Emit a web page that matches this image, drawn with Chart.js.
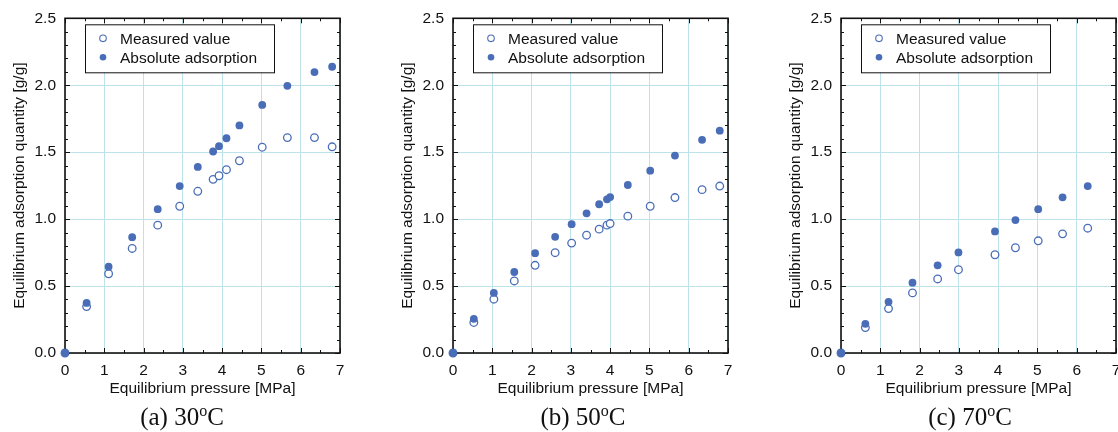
<!DOCTYPE html>
<html>
<head>
<meta charset="utf-8">
<script src="https://cdn.jsdelivr.net/npm/chart.js@4/dist/chart.umd.min.js"></script>
<style>
  html, body { margin: 0; padding: 0; background: #fff; }
  body { width: 1118px; height: 432px; overflow: hidden; position: relative; }
  .panel { position: absolute; top: 0; width: 388px; height: 432px; }
  .caption {
    position: absolute; top: 403px; white-space: nowrap;
    font-family: 'Liberation Serif', 'Times New Roman', serif; font-size: 25px; color: #111;
    transform: translateX(-50%);
  }
  .caption sup { font-size: 16px; vertical-align: 0; position: relative; top: -9px; }
</style>
</head>
<body>
<div class="panel" style="left:0px"><canvas id="chartA" width="388" height="432"></canvas><div class="caption" style="left:182px">(a) 30<sup>o</sup>C</div></div>
<div class="panel" style="left:388px"><canvas id="chartB" width="388" height="432"></canvas><div class="caption" style="left:195px">(b) 50<sup>o</sup>C</div></div>
<div class="panel" style="left:776px"><canvas id="chartC" width="388" height="432"></canvas><div class="caption" style="left:194px">(c) 70<sup>o</sup>C</div></div>
<script>
// ============================
// DATA
// ============================
const seriesLabels = ["Measured value", "Absolute adsorption"];
const xTitle = "Equilibrium pressure [MPa]";
const yTitle = "Equilibrium adsorption quantity [g/g]";

// (a) 30 C
const pressureA = [0, 0.55, 1.11, 1.71, 2.36, 2.92, 3.38, 3.77, 3.92, 4.11, 4.44, 5.02, 5.66, 6.35, 6.80];
const measuredA = [0, 0.347, 0.592, 0.781, 0.955, 1.096, 1.208, 1.297, 1.324, 1.369, 1.436, 1.537, 1.609, 1.609, 1.540];
const absoluteA = [0, 0.374, 0.645, 0.865, 1.074, 1.247, 1.390, 1.505, 1.545, 1.604, 1.700, 1.853, 1.996, 2.098, 2.138];

// (b) 50 C
const pressureB = [0, 0.53, 1.04, 1.56, 2.09, 2.60, 3.02, 3.40, 3.72, 3.92, 4.00, 4.45, 5.02, 5.65, 6.34, 6.79];
const measuredB = [0, 0.228, 0.402, 0.538, 0.655, 0.749, 0.821, 0.880, 0.925, 0.955, 0.967, 1.022, 1.096, 1.161, 1.220, 1.247];
const absoluteB = [0, 0.255, 0.449, 0.605, 0.746, 0.868, 0.962, 1.043, 1.111, 1.148, 1.165, 1.255, 1.362, 1.475, 1.592, 1.661];

// (c) 70 C
const pressureC = [0, 0.62, 1.21, 1.82, 2.46, 2.99, 3.92, 4.44, 5.02, 5.64, 6.28];
const measuredC = [0, 0.190, 0.332, 0.449, 0.553, 0.622, 0.734, 0.786, 0.838, 0.890, 0.932];
const absoluteC = [0, 0.218, 0.382, 0.525, 0.655, 0.751, 0.908, 0.993, 1.074, 1.163, 1.247];

// ============================
// STYLE
// ============================
const BLUE = "#4a6db8";
const GRID = "#bde2e9";
const INK = "#111";

Chart.defaults.font.family = "'Liberation Sans', Arial, Helvetica, sans-serif";
Chart.defaults.font.size = 15.5;
Chart.defaults.color = INK;

// box frame + inward ticks on all four sides
const frameTicks = {
  id: "frameTicks",
  beforeDatasetsDraw(chart){
    const {ctx, chartArea: a, scales: {x, y}} = chart;
    ctx.save();
    ctx.strokeStyle = INK;
    ctx.lineWidth = 1;
    ctx.beginPath();
    for(let i = 0; i <= 14; i++){
      const px = Math.round(x.getPixelForValue(i / 2)) + 0.5;
      const len = i % 2 === 0 ? 5 : 3;
      ctx.moveTo(px, a.bottom); ctx.lineTo(px, a.bottom - len);
      ctx.moveTo(px, a.top); ctx.lineTo(px, a.top + len);
    }
    for(let i = 0; i <= 25; i++){
      const py = Math.round(y.getPixelForValue(i / 10)) + 0.5;
      const len = i % 5 === 0 ? 5 : 3;
      ctx.moveTo(a.left, py); ctx.lineTo(a.left + len, py);
      ctx.moveTo(a.right, py); ctx.lineTo(a.right - len, py);
    }
    ctx.stroke();
    ctx.lineWidth = 1.6;
    ctx.strokeRect(a.left, a.top, a.right - a.left, a.bottom - a.top);
    ctx.restore();
  }
};

// boxed legend inside the plot, upper left
const boxLegend = {
  id: "boxLegend",
  afterDatasetsDraw(chart){
    const {ctx, chartArea: a} = chart;
    const bx = a.left + 20, by = a.top + 6, bw = 189, bh = 48;
    ctx.save();
    ctx.fillStyle = "#fff";
    ctx.fillRect(bx, by, bw, bh);
    ctx.strokeStyle = INK;
    ctx.lineWidth = 1;
    ctx.strokeRect(bx + 0.5, by + 0.5, bw, bh);
    chart.data.datasets.forEach((ds, i) => {
      const cy = by + 14 + i * 19;
      ctx.beginPath();
      ctx.arc(bx + 18, cy, 3.3, 0, Math.PI * 2);
      ctx.fillStyle = ds.backgroundColor;
      ctx.fill();
      if(ds.borderWidth){
        ctx.strokeStyle = ds.borderColor;
        ctx.lineWidth = 1.1;
        ctx.stroke();
      }
      ctx.fillStyle = INK;
      ctx.font = "15.5px 'Liberation Sans', Arial, sans-serif";
      ctx.textBaseline = "middle";
      ctx.fillText(ds.label, bx + 35, cy + 1);
    });
    ctx.restore();
  }
};

function toPoints(xs, ys){
  return xs.map((x, i) => ({x: x, y: ys[i]}));
}

function makeChart(id, pressure, measured, absolute){
  new Chart(document.getElementById(id), {
    type: "scatter",
    data: {
      datasets: [{
        label: seriesLabels[0],
        data: toPoints(pressure, measured),
        backgroundColor: "#fff",
        borderColor: BLUE,
        borderWidth: 1.3,
        pointRadius: 3.8,
        clip: false,
        order: 2
      },{
        label: seriesLabels[1],
        data: toPoints(pressure, absolute),
        backgroundColor: BLUE,
        borderColor: BLUE,
        borderWidth: 0,
        pointRadius: 3.9,
        clip: false,
        order: 1
      }]
    },
    options: {
      responsive: false,
      animation: false,
      layout: { padding: { top: 17, right: 48, bottom: 0, left: 0 } },
      plugins: { legend: { display: false }, tooltip: { enabled: false } },
      scales: {
        x: {
          type: "linear", min: 0, max: 7,
          ticks: { stepSize: 1, padding: 8, maxRotation: 0 },
          grid: { color: GRID, lineWidth: 1, drawTicks: false },
          border: { display: false },
          title: { display: true, text: xTitle, padding: { top: 0, bottom: 34 } },
          afterFit(scale){ scale.height = 79; }
        },
        y: {
          type: "linear", min: 0, max: 2.5,
          ticks: { stepSize: 0.5, padding: 9, callback: v => v.toFixed(1) },
          grid: { color: GRID, lineWidth: 1, drawTicks: false },
          border: { display: false },
          title: { display: true, text: yTitle, padding: { top: 10, bottom: 0 } },
          afterFit(scale){ scale.width = 65; }
        }
      }
    },
    plugins: [frameTicks, boxLegend]
  });
}

makeChart("chartA", pressureA, measuredA, absoluteA);
makeChart("chartB", pressureB, measuredB, absoluteB);
makeChart("chartC", pressureC, measuredC, absoluteC);
</script>
</body>
</html>
